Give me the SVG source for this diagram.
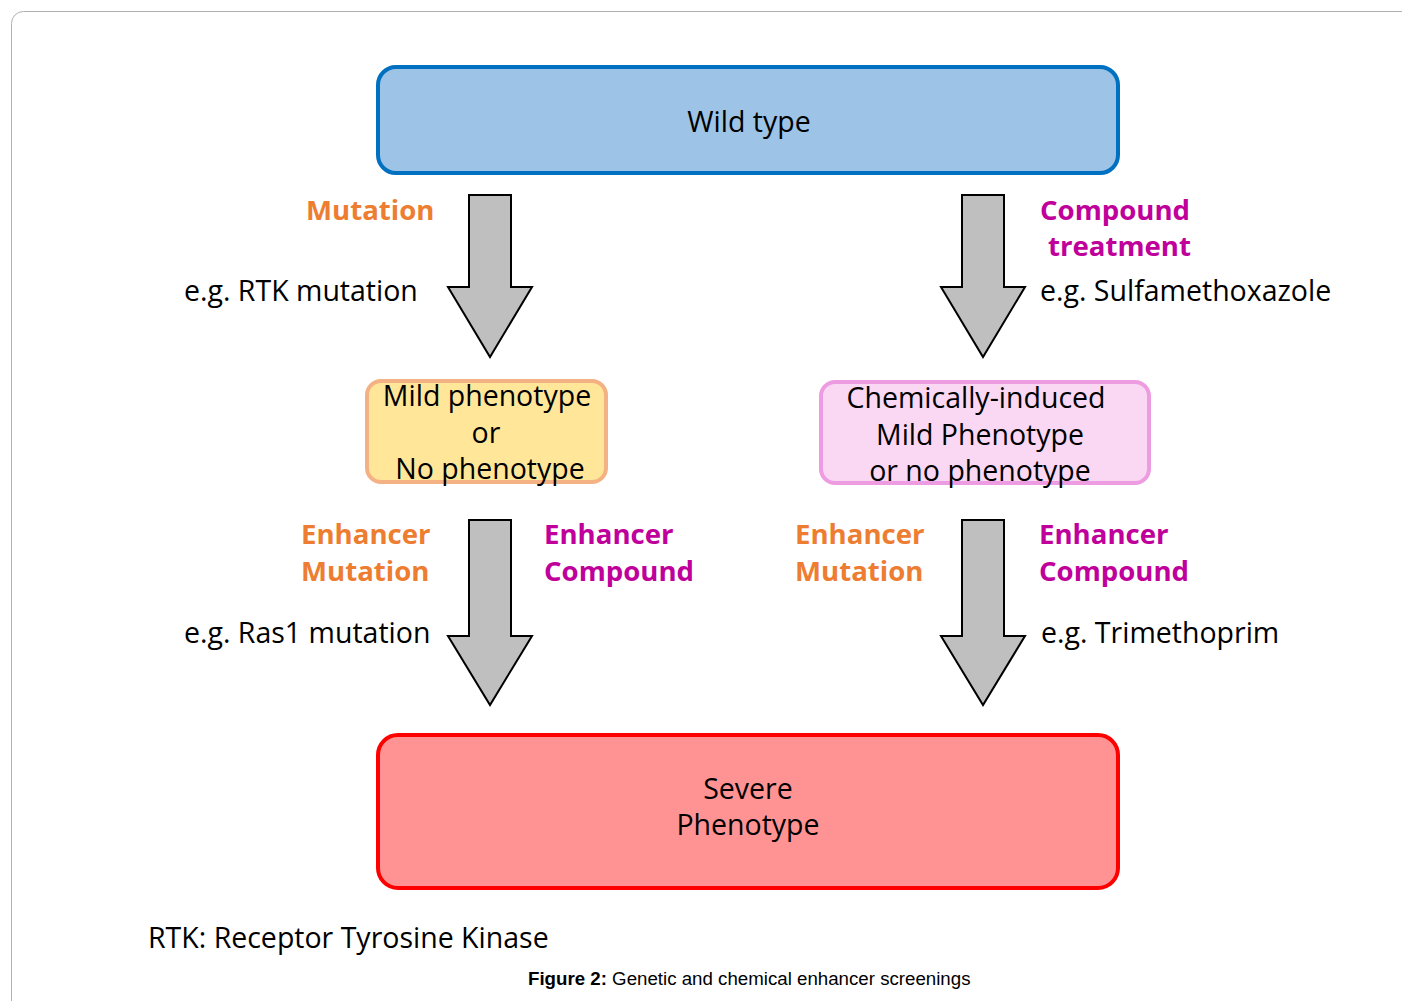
<svg xmlns="http://www.w3.org/2000/svg" width="1402" height="1001" viewBox="0 0 1402 1001">
<style>
.t{font-family:"Open Sans","Noto Sans",sans-serif;font-size:28.5px;fill:#000}
.c{text-anchor:middle}
.o{font-family:"Open Sans","Noto Sans",sans-serif;font-size:27.6px;font-weight:bold;fill:#ED7D31}
.m{font-family:"Open Sans","Noto Sans",sans-serif;font-size:27.6px;font-weight:bold;fill:#C0009A}
.arr{fill:#BFBFBF;stroke:#000;stroke-width:2;stroke-linejoin:miter}
.cap{font-family:"Liberation Sans",Arial,sans-serif;font-size:18.7px;fill:#000}
</style>
<rect x="11.5" y="11.5" width="1420" height="1020" rx="12" fill="#fff" stroke="#b0b0b0" stroke-width="1"/>
<g id="connectors">
<path class="arr" d="M469,195 H511 V287 H532 L490,357 L448,287 H469 Z"/>
<path class="arr" d="M962,195 H1004 V287 H1025 L983,357 L941,287 H962 Z"/>
<path class="arr" d="M469,520 H511 V636 H532 L490,705 L448,636 H469 Z"/>
<path class="arr" d="M962,520 H1004 V636 H1025 L983,705 L941,636 H962 Z"/>
</g>
<g id="wild-type">
<rect x="378" y="67" width="740" height="106" rx="18" fill="#9DC3E6" stroke="#0070C0" stroke-width="4"/>
<text class="t c" x="749" y="132">Wild type</text>
</g>
<g id="mild-phenotype">
<rect x="367" y="381" width="239" height="101" rx="14" fill="#FFE699" stroke="#F4B183" stroke-width="4"/>
<text class="t c" x="487" y="406">Mild phenotype</text>
<text class="t c" x="486" y="443">or</text>
<text class="t c" x="490" y="479">No phenotype</text>
</g>
<g id="chem-phenotype">
<rect x="821" y="382" width="328" height="101" rx="14" fill="#FAD8F4" stroke="#EE9CE2" stroke-width="4"/>
<text class="t c" x="976" y="408">Chemically-induced</text>
<text class="t c" x="980" y="445">Mild Phenotype</text>
<text class="t c" x="980" y="481">or no phenotype</text>
</g>
<g id="severe-phenotype">
<rect x="378" y="735" width="740" height="153" rx="20" fill="#FF9393" stroke="#FF0000" stroke-width="4"/>
<text class="t c" x="748" y="799">Severe</text>
<text class="t c" x="748" y="835">Phenotype</text>
</g>
<g id="labels">
<text class="o" x="306" y="220">Mutation</text>
<text class="t" x="184" y="301">e.g. RTK mutation</text>
<text class="m" x="1040" y="220">Compound</text>
<text class="m" x="1048" y="256">treatment</text>
<text class="t" x="1040" y="301">e.g. Sulfamethoxazole</text>
<text class="o" x="301" y="544">Enhancer</text>
<text class="o" x="301" y="581">Mutation</text>
<text class="m" x="544" y="544">Enhancer</text>
<text class="m" x="544" y="581">Compound</text>
<text class="o" x="795" y="544">Enhancer</text>
<text class="o" x="795" y="581">Mutation</text>
<text class="m" x="1039" y="544">Enhancer</text>
<text class="m" x="1039" y="581">Compound</text>
<text class="t" x="184" y="643">e.g. Ras1 mutation</text>
<text class="t" x="1041" y="643">e.g. Trimethoprim</text>
<text class="t" x="148" y="948">RTK: Receptor Tyrosine Kinase</text>
<text class="cap" x="528" y="985"><tspan font-weight="bold">Figure 2:</tspan> Genetic and chemical enhancer screenings</text>
</g>
</svg>
